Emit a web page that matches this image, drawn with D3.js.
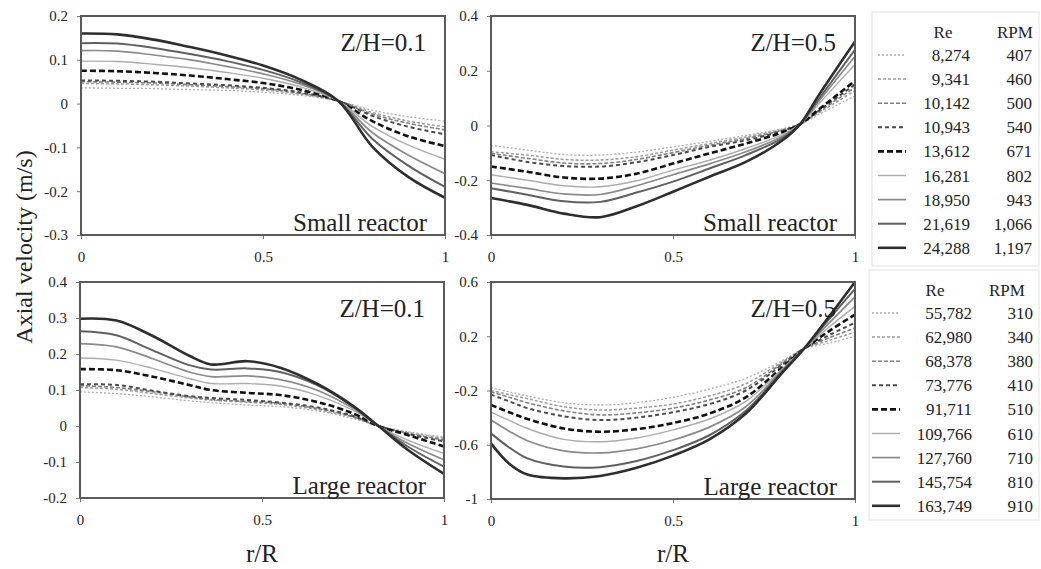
<!DOCTYPE html>
<html>
<head>
<meta charset="utf-8">
<title>axial velocity</title>
<style>
  body { margin: 0; background: #fff; }
</style>
</head>
<body>
<div id="chart"></div>
<script src="https://d3js.org/d3.v7.min.js"></script>
<script>

// legend tables
const reSmall = ["8,274", "9,341", "10,142", "10,943", "13,612", "16,281", "18,950", "21,619", "24,288"];
const rpmSmall = ["407", "460", "500", "540", "671", "802", "943", "1,066", "1,197"];
const reLarge = ["55,782", "62,980", "68,378", "73,776", "91,711", "109,766", "127,760", "145,754", "163,749"];
const rpmLarge = ["310", "340", "380", "410", "510", "610", "710", "810", "910"];

// axis ticks
const xTicks = [0, 0.5, 1];
const yTicksSmall01 = [-0.3, -0.2, -0.1, 0, 0.1, 0.2];
const yTicksSmall05 = [-0.4, -0.2, 0, 0.2, 0.4];
const yTicksLarge01 = [-0.2, -0.1, 0, 0.1, 0.2, 0.3, 0.4];
const yTicksLarge05 = [-1, -0.6, -0.2, 0.2, 0.6];

// small reactor, Z/H = 0.1
const rSmall01 = [0, 0.1, 0.2, 0.3, 0.4, 0.5, 0.6, 0.707, 0.8, 0.9, 1];
const vSmall01 = [
  [0.036, 0.035, 0.034, 0.032, 0.030, 0.026, 0.019, 0.006, -0.015, -0.030, -0.040],
  [0.046, 0.045, 0.043, 0.040, 0.036, 0.031, 0.022, 0.006, -0.020, -0.040, -0.053],
  [0.050, 0.049, 0.047, 0.043, 0.039, 0.034, 0.024, 0.006, -0.024, -0.045, -0.060],
  [0.053, 0.052, 0.050, 0.046, 0.042, 0.036, 0.026, 0.006, -0.028, -0.053, -0.070],
  [0.075, 0.074, 0.070, 0.064, 0.056, 0.047, 0.032, 0.006, -0.040, -0.075, -0.097],
  [0.097, 0.096, 0.090, 0.082, 0.071, 0.058, 0.039, 0.006, -0.052, -0.095, -0.127],
  [0.121, 0.120, 0.111, 0.100, 0.085, 0.068, 0.045, 0.006, -0.066, -0.118, -0.160],
  [0.138, 0.137, 0.127, 0.113, 0.097, 0.077, 0.050, 0.006, -0.080, -0.142, -0.190],
  [0.160, 0.158, 0.146, 0.129, 0.110, 0.087, 0.056, 0.006, -0.098, -0.168, -0.215]
];

// small reactor, Z/H = 0.5
const rSmall05 = [0, 0.1, 0.2, 0.3, 0.4, 0.5, 0.6, 0.7, 0.8, 0.85, 0.9, 1];
const vSmall05 = [
  [-0.072, -0.090, -0.106, -0.108, -0.097, -0.078, -0.058, -0.036, -0.012, 0.006, 0.040, 0.108],
  [-0.096, -0.108, -0.124, -0.126, -0.114, -0.090, -0.066, -0.042, -0.015, 0.006, 0.046, 0.127],
  [-0.102, -0.120, -0.137, -0.139, -0.124, -0.099, -0.072, -0.048, -0.017, 0.006, 0.050, 0.139],
  [-0.108, -0.133, -0.148, -0.150, -0.134, -0.108, -0.078, -0.054, -0.020, 0.006, 0.054, 0.150],
  [-0.150, -0.169, -0.190, -0.194, -0.176, -0.139, -0.102, -0.066, -0.025, 0.006, 0.058, 0.163],
  [-0.180, -0.200, -0.220, -0.224, -0.202, -0.163, -0.127, -0.084, -0.033, 0.006, 0.078, 0.223],
  [-0.210, -0.230, -0.250, -0.252, -0.220, -0.180, -0.140, -0.096, -0.040, 0.006, 0.088, 0.253],
  [-0.229, -0.253, -0.277, -0.279, -0.245, -0.205, -0.157, -0.108, -0.047, 0.006, 0.096, 0.277],
  [-0.265, -0.290, -0.322, -0.335, -0.295, -0.242, -0.187, -0.133, -0.055, 0.006, 0.110, 0.307]
];

// large reactor, Z/H = 0.1
const rLarge01 = [0, 0.1, 0.2, 0.3, 0.36, 0.46, 0.55, 0.65, 0.75, 0.82, 0.9, 1];
const vLarge01 = [
  [0.095, 0.090, 0.081, 0.070, 0.065, 0.058, 0.054, 0.042, 0.021, 0, -0.016, -0.030],
  [0.107, 0.102, 0.090, 0.078, 0.072, 0.066, 0.060, 0.046, 0.024, 0, -0.018, -0.034],
  [0.112, 0.107, 0.095, 0.081, 0.074, 0.068, 0.063, 0.049, 0.026, 0, -0.020, -0.039],
  [0.116, 0.114, 0.098, 0.083, 0.078, 0.072, 0.065, 0.052, 0.028, 0, -0.022, -0.043],
  [0.158, 0.155, 0.137, 0.114, 0.100, 0.092, 0.086, 0.067, 0.035, 0, -0.025, -0.057],
  [0.189, 0.183, 0.160, 0.132, 0.118, 0.118, 0.111, 0.086, 0.044, 0, -0.039, -0.076],
  [0.229, 0.220, 0.187, 0.150, 0.137, 0.139, 0.129, 0.100, 0.049, 0, -0.048, -0.094],
  [0.263, 0.252, 0.210, 0.169, 0.157, 0.160, 0.150, 0.114, 0.054, 0, -0.057, -0.113],
  [0.298, 0.293, 0.250, 0.195, 0.171, 0.180, 0.162, 0.118, 0.056, 0, -0.066, -0.133]
];

// large reactor, Z/H = 0.5
const rLarge05 = [0, 0.05, 0.1, 0.2, 0.3, 0.4, 0.5, 0.6, 0.7, 0.8, 0.86, 0.93, 1];
const vLarge05 = [
  [-0.18, -0.21, -0.24, -0.29, -0.307, -0.29, -0.25, -0.19, -0.11, 0.02, 0.108, 0.15, 0.20],
  [-0.20, -0.23, -0.26, -0.32, -0.344, -0.33, -0.30, -0.24, -0.15, 0.01, 0.108, 0.17, 0.23],
  [-0.21, -0.25, -0.29, -0.35, -0.380, -0.365, -0.33, -0.27, -0.18, 0.0, 0.108, 0.19, 0.26],
  [-0.23, -0.28, -0.33, -0.39, -0.418, -0.40, -0.36, -0.30, -0.20, -0.01, 0.108, 0.21, 0.30],
  [-0.307, -0.36, -0.41, -0.48, -0.504, -0.485, -0.44, -0.37, -0.25, -0.03, 0.108, 0.24, 0.36],
  [-0.36, -0.42, -0.48, -0.56, -0.578, -0.55, -0.49, -0.41, -0.28, -0.04, 0.108, 0.27, 0.42],
  [-0.418, -0.50, -0.57, -0.645, -0.66, -0.63, -0.565, -0.47, -0.32, -0.05, 0.108, 0.30, 0.49],
  [-0.516, -0.62, -0.70, -0.76, -0.765, -0.72, -0.64, -0.53, -0.35, -0.06, 0.108, 0.33, 0.55],
  [-0.59, -0.74, -0.82, -0.848, -0.83, -0.77, -0.68, -0.56, -0.37, -0.07, 0.108, 0.35, 0.60]
];

// line styles, one per Re row
const styles = [
  {stroke: "#acacac", width: 1.3, dash: "2,2"},
  {stroke: "#9a9a9a", width: 1.5, dash: "3,2"},
  {stroke: "#808080", width: 1.6, dash: "4,2"},
  {stroke: "#4a4a4a", width: 2.0, dash: "4,3"},
  {stroke: "#111111", width: 2.6, dash: "6,3"},
  {stroke: "#acacac", width: 1.4, dash: null},
  {stroke: "#8a8a8a", width: 1.7, dash: null},
  {stroke: "#606060", width: 2.0, dash: null},
  {stroke: "#2e2e2e", width: 2.6, dash: null}
];

const serif = "'Liberation Serif', 'Times New Roman', serif";

const W = 1041, H = 569;
const svg = d3.select("#chart").append("svg")
  .attr("width", W)
  .attr("height", H)
  .attr("font-family", serif);

const panels = [
  {x0: 81, x1: 445, y0: 16, y1: 235, dom: [-0.3, 0.2], ticks: yTicksSmall01, r: rSmall01, v: vSmall01, zh: "Z/H=0.1", name: "Small reactor"},
  {x0: 491, x1: 855, y0: 16, y1: 235, dom: [-0.4, 0.4], ticks: yTicksSmall05, r: rSmall05, v: vSmall05, zh: "Z/H=0.5", name: "Small reactor"},
  {x0: 80, x1: 444, y0: 282, y1: 498, dom: [-0.2, 0.4], ticks: yTicksLarge01, r: rLarge01, v: vLarge01, zh: "Z/H=0.1", name: "Large reactor"},
  {x0: 491, x1: 855, y0: 282, y1: 499, dom: [-1, 0.6], ticks: yTicksLarge05, r: rLarge05, v: vLarge05, zh: "Z/H=0.5", name: "Large reactor"}
];

const fmt = d => String(+d.toFixed(1));

panels.forEach(p => {
  const x = d3.scaleLinear().domain([0, 1]).range([p.x0, p.x1]);
  const y = d3.scaleLinear().domain(p.dom).range([p.y1, p.y0]);
  const g = svg.append("g");

  // y axis
  g.append("g")
    .attr("transform", `translate(${p.x0},0)`)
    .call(d3.axisLeft(y).tickValues(p.ticks).tickFormat(fmt).tickSize(4).tickPadding(9))
    .attr("font-family", serif)
    .attr("font-size", 15)
    .call(a => a.select(".domain").remove())
    .call(a => a.selectAll("line").attr("stroke", "#777"))
    .call(a => a.selectAll("text").attr("fill", "#222"));

  // x axis
  g.append("g")
    .attr("transform", `translate(0,${p.y1})`)
    .call(d3.axisBottom(x).tickValues(xTicks).tickFormat(fmt).tickSize(4).tickPadding(12))
    .attr("font-family", serif)
    .attr("font-size", 15)
    .call(a => a.select(".domain").remove())
    .call(a => a.selectAll("line").attr("stroke", "#777"))
    .call(a => a.selectAll("text").attr("fill", "#222"));

  // curves
  const line = d3.line()
    .x((d, i) => x(p.r[i]))
    .y(d => y(d))
    .curve(d3.curveCatmullRom.alpha(0.5));

  g.append("g").selectAll("path")
    .data(p.v)
    .join("path")
      .attr("d", line)
      .attr("fill", "none")
      .attr("stroke", (d, i) => styles[i].stroke)
      .attr("stroke-width", (d, i) => styles[i].width)
      .attr("stroke-dasharray", (d, i) => styles[i].dash);

  // frame
  g.append("rect")
    .attr("x", p.x0).attr("y", p.y0)
    .attr("width", p.x1 - p.x0).attr("height", p.y1 - p.y0)
    .attr("fill", "none")
    .attr("stroke", "#5a5a5a")
    .attr("stroke-width", 2);

  g.append("text")
    .attr("x", p.x1 - 19).attr("y", p.y0 + 35)
    .attr("text-anchor", "end")
    .attr("font-size", 25)
    .attr("fill", "#222")
    .text(p.zh);

  g.append("text")
    .attr("x", p.x1 - 18).attr("y", p.y1 - 4)
    .attr("text-anchor", "end")
    .attr("font-size", 25)
    .attr("fill", "#222")
    .text(p.name);
});

// axis titles
svg.append("text")
  .attr("transform", "translate(32,247) rotate(-90)")
  .attr("text-anchor", "middle")
  .attr("font-size", 24)
  .attr("fill", "#222")
  .text("Axial velocity (m/s)");

[262, 673].forEach(cx => {
  svg.append("text")
    .attr("x", cx).attr("y", 562)
    .attr("text-anchor", "middle")
    .attr("font-size", 25)
    .attr("fill", "#222")
    .text("r/R");
});

// legends
function legend(top, left, boxBottom, lineX0, lineX1, reX, rpmX, reHead, rpmHead, re, rpm) {
  const lg = svg.append("g").attr("font-size", 17).attr("fill", "#222");
  lg.append("rect")
    .attr("x", left).attr("y", top)
    .attr("width", 1039 - left).attr("height", boxBottom - top)
    .attr("fill", "none")
    .attr("stroke", "#e2e2e2");
  const y0 = top + 43, step = 24.1;
  lg.append("text").attr("x", reHead).attr("y", top + 26)
    .attr("text-anchor", "middle").text("Re");
  lg.append("text").attr("x", rpmHead).attr("y", top + 26)
    .attr("text-anchor", "middle").text("RPM");
  re.forEach((t, i) => {
    const yy = y0 + i * step;
    lg.append("line")
      .attr("x1", lineX0).attr("x2", lineX1)
      .attr("y1", yy).attr("y2", yy)
      .attr("stroke", styles[i].stroke)
      .attr("stroke-width", styles[i].width)
      .attr("stroke-dasharray", styles[i].dash);
    lg.append("text").attr("x", reX).attr("y", yy + 6)
      .attr("text-anchor", "end").text(t);
    lg.append("text").attr("x", rpmX).attr("y", yy + 6)
      .attr("text-anchor", "end").text(rpm[i]);
  });
}

legend(12, 872, 266, 878, 906, 970, 1032, 943, 1015, reSmall, rpmSmall);
legend(270, 869, 520, 872, 900, 972, 1033, 935, 1007, reLarge, rpmLarge);

</script>
</body>
</html>
